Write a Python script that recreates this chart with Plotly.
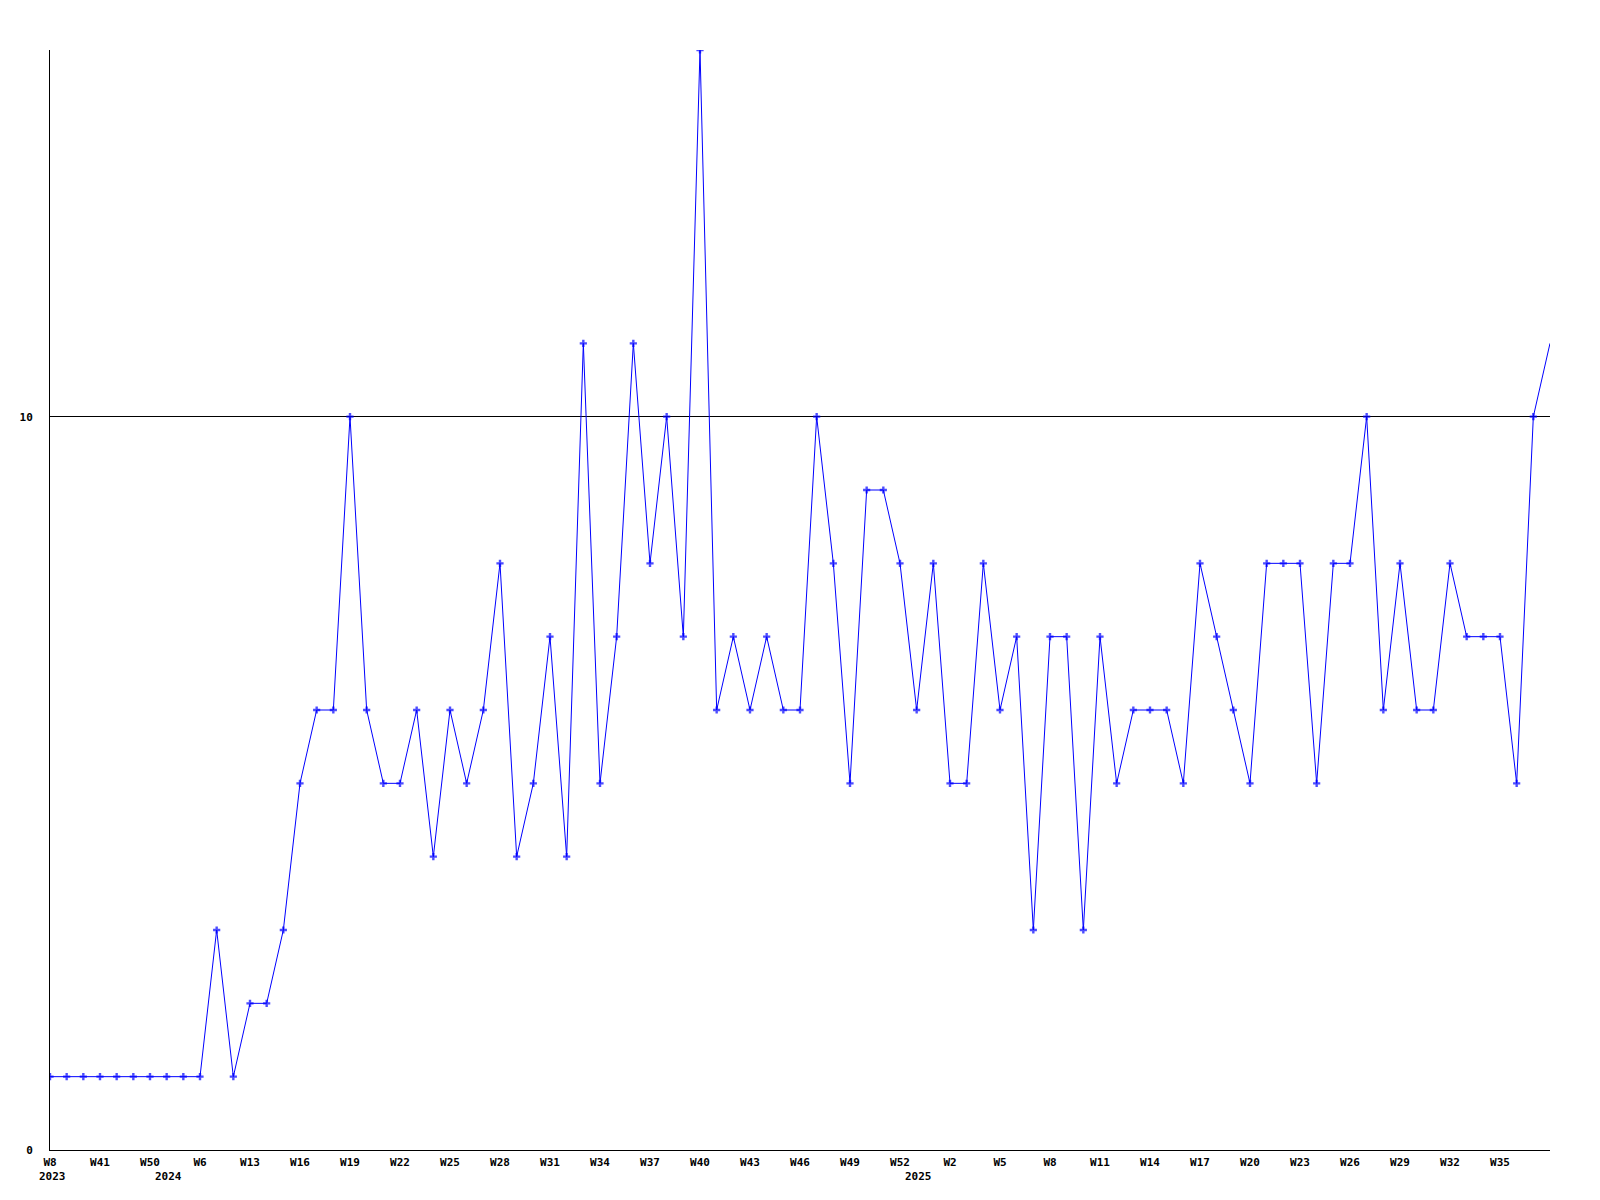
import plotly.graph_objects as go

# weekly values (index = sequential data point)
values = [1, 1, 1, 1, 1, 1, 1, 1, 1, 1,
          3, 1, 2, 2, 3, 5, 6, 6, 10, 6,
          5, 5, 6, 4, 6, 5, 6, 8, 4, 5,
          7, 4, 11, 5, 7, 11, 8, 10, 7, 15,
          6, 7, 6, 7, 6, 6, 10, 8, 5, 9,
          9, 8, 6, 8, 5, 5, 8, 6, 7, 3,
          7, 7, 3, 7, 5, 6, 6, 6, 5, 8,
          7, 6, 5, 8, 8, 8, 5, 8, 8, 10,
          6, 8, 6, 6, 8, 7, 7, 7, 5, 10,
          11]

tick_labels = ["W8", "W41", "W50", "W6", "W13", "W16", "W19", "W22", "W25", "W28",
               "W31", "W34", "W37", "W40", "W43", "W46", "W49", "W52", "W2", "W5",
               "W8", "W11", "W14", "W17", "W20", "W23", "W26", "W29", "W32", "W35"]
tick_step = 3

year_labels = ["2023", "2024", "2025"]
year_positions = [0, 7, 52]

x = list(range(len(values)))
tick_vals = [i * tick_step for i in range(len(tick_labels))]

font_family = "DejaVu Sans Mono"
blue = "#0000ff"

marker_sizes = [6] * (len(values) - 1) + [0]

fig = go.Figure()
fig.add_trace(go.Scatter(
    x=x, y=values, mode="lines+markers",
    line=dict(color=blue, width=1),
    marker=dict(symbol="cross", size=marker_sizes, color=blue, line=dict(width=0)),
    showlegend=False, hoverinfo="skip",
))

for yl, yp in zip(year_labels, year_positions):
    fig.add_annotation(
        x=yp, y=0, xref="x", yref="paper", text=yl, showarrow=False,
        yshift=-26, yanchor="middle", xanchor="center", xshift=2,
        font=dict(family=font_family, size=11, color="black", weight="bold"),
    )

fig.update_layout(
    width=1592, height=1192,
    margin=dict(l=42, r=50, t=42, b=50),
    paper_bgcolor="white", plot_bgcolor="white",
    xaxis=dict(
        range=[0, len(values) - 1], tickvals=tick_vals, ticktext=tick_labels,
        showgrid=False, zeroline=False, showline=True, linecolor="black", linewidth=1,
        ticks="", ticklabelstandoff=2,
        tickfont=dict(family=font_family, size=11, color="black", weight="bold"),
    ),
    yaxis=dict(
        range=[0, 15], tickvals=[0, 10], ticktext=["0", "10"],
        showgrid=True, gridcolor="black", gridwidth=1,
        zeroline=False, showline=True, linecolor="black", linewidth=1,
        ticks="", ticklabelstandoff=14,
        tickfont=dict(family=font_family, size=11, color="black", weight="bold"),
    ),
)

fig.write_html("out.html")
